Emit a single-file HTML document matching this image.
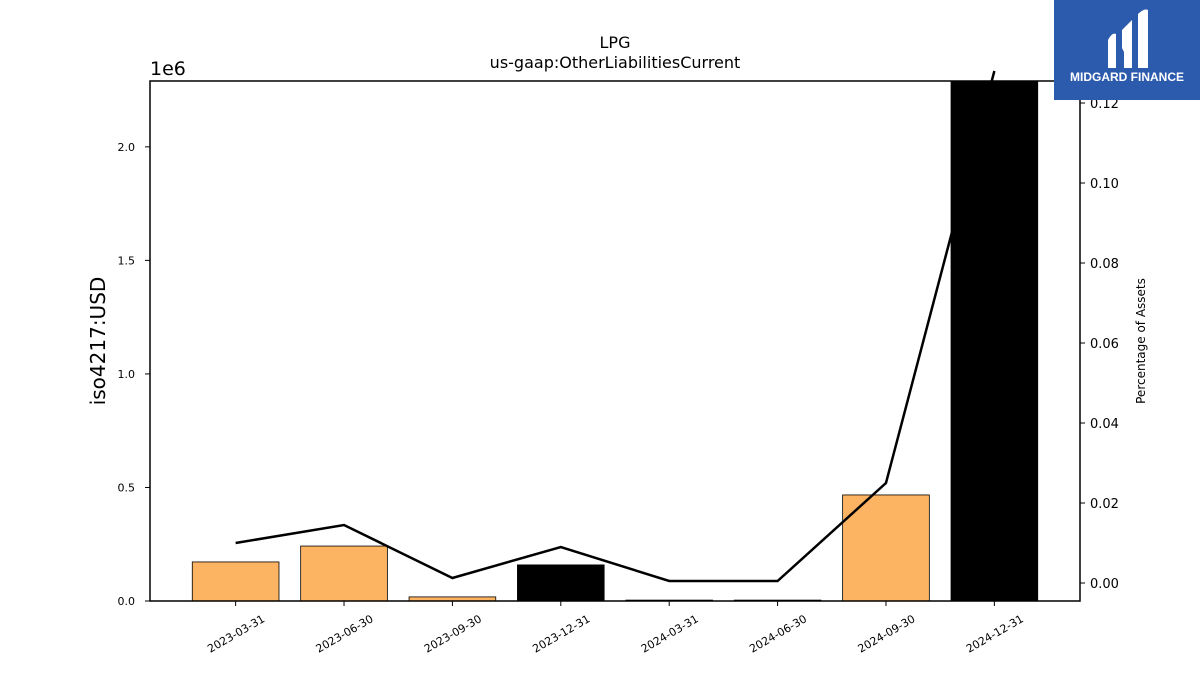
<!DOCTYPE html>
<html><head><meta charset="utf-8"><style>
body{margin:0;background:#fff;font-family:"DejaVu Sans","Liberation Sans",sans-serif}
</style></head><body>
<svg id="chart" width="1200" height="675" xmlns="http://www.w3.org/2000/svg" style="display:block">
<rect width="1200" height="675" fill="#fff"/>
<text x="615" y="48" font-size="16" text-anchor="middle">LPG</text>
<text x="615" y="68" font-size="16" text-anchor="middle">us-gaap:OtherLiabilitiesCurrent</text>
<text x="150" y="75" font-size="19">1e6</text>
<text transform="translate(105,341) rotate(-90)" font-size="20" text-anchor="middle">iso4217:USD</text>
<text transform="translate(1145,341) rotate(-90)" font-size="12" text-anchor="middle">Percentage of Assets</text>
<g id="bars"></g><g id="line"></g><g id="axes"></g>
<rect x="150" y="81" width="930" height="520" fill="none" stroke="#000" stroke-width="1.5"/>
<g>
<rect x="1054" y="0" width="146" height="100" fill="#2c5aad"/>
<path d="M1108 40 q4-8 8-6 v34 h-8z M1122 30 l10-10 v48 h-8 v-16 l-2-4z M1138 14 q6-6 10-4 v58 h-10z" fill="#fff"/>
<text x="1127" y="81" font-size="12" font-weight="bold" fill="#fff" text-anchor="middle" font-family="Liberation Sans, sans-serif">MIDGARD FINANCE</text>
</g>
</svg>
<script>
const categories=["2023-03-31","2023-06-30","2023-09-30","2023-12-31","2024-03-31","2024-06-30","2024-09-30","2024-12-31"];
const values=[172000,242000,18000,159000,4000,4000,467000,2400000];
const barColors=["#fdb462","#fdb462","#fdb462","#000","#fdb462","#fdb462","#fdb462","#000"];
const pct=[0.010,0.0145,0.00125,0.009,0.0005,0.0005,0.025,0.128];
const yTicks=[0,0.5,1.0,1.5,2.0];
const y2Ticks=[0,0.02,0.04,0.06,0.08,0.10,0.12];
const NS="http://www.w3.org/2000/svg";
const L=150,R=1080,T=81,B=601;
const x=i=>L+(i+0.79)/(7+1.58)*(R-L);
const y=v=>B-(v/2.29e6)*(B-T);
const y2=p=>B-(p+0.0045)/(0.1300)*(B-T);
function mk(tag,attrs,parent){const e=document.createElementNS(NS,tag);for(const k in attrs)e.setAttribute(k,attrs[k]);parent.appendChild(e);return e;}
const bars=document.getElementById('bars'),line=document.getElementById('line'),axes=document.getElementById('axes');
const bw=(x(1)-x(0))*0.8;
let pts=pct.map((p,i)=>x(i)+","+y2(p)).join(" ");
const ln=mk('polyline',{points:pts,fill:"none",stroke:"#000","stroke-width":2.5},line);


values.forEach((v,i)=>{
 const top=Math.max(y(v),T);
 const r=mk('rect',{x:x(i)-bw/2,y:top,width:bw,height:B-top,fill:barColors[i],stroke:"#000","stroke-width":0.8},bars);
 
 
 mk('line',{x1:x(i),x2:x(i),y1:B,y2:B+5,stroke:"#000"},axes);
 const t=mk('text',{transform:`translate(${x(i)+30},${B+20}) rotate(-30)`,"font-size":11,"text-anchor":"end"},axes);
 t.textContent=categories[i];
 
 
});
yTicks.forEach(v=>{
 const yy=y(v*1e6);
 mk('line',{x1:L-5,x2:L,y1:yy,y2:yy,stroke:"#000"},axes);
 const t=mk('text',{x:L-15,y:yy+4,"font-size":11,"text-anchor":"end"},axes);
 t.textContent=v.toFixed(1);
 
 
});
y2Ticks.forEach(p=>{
 const yy=y2(p);
 mk('line',{x1:R,x2:R+5,y1:yy,y2:yy,stroke:"#000"},axes);
 const t=mk('text',{x:R+10,y:yy+5,"font-size":13},axes);
 t.textContent=p.toFixed(2);
 
 
});
</script>
</body></html>
